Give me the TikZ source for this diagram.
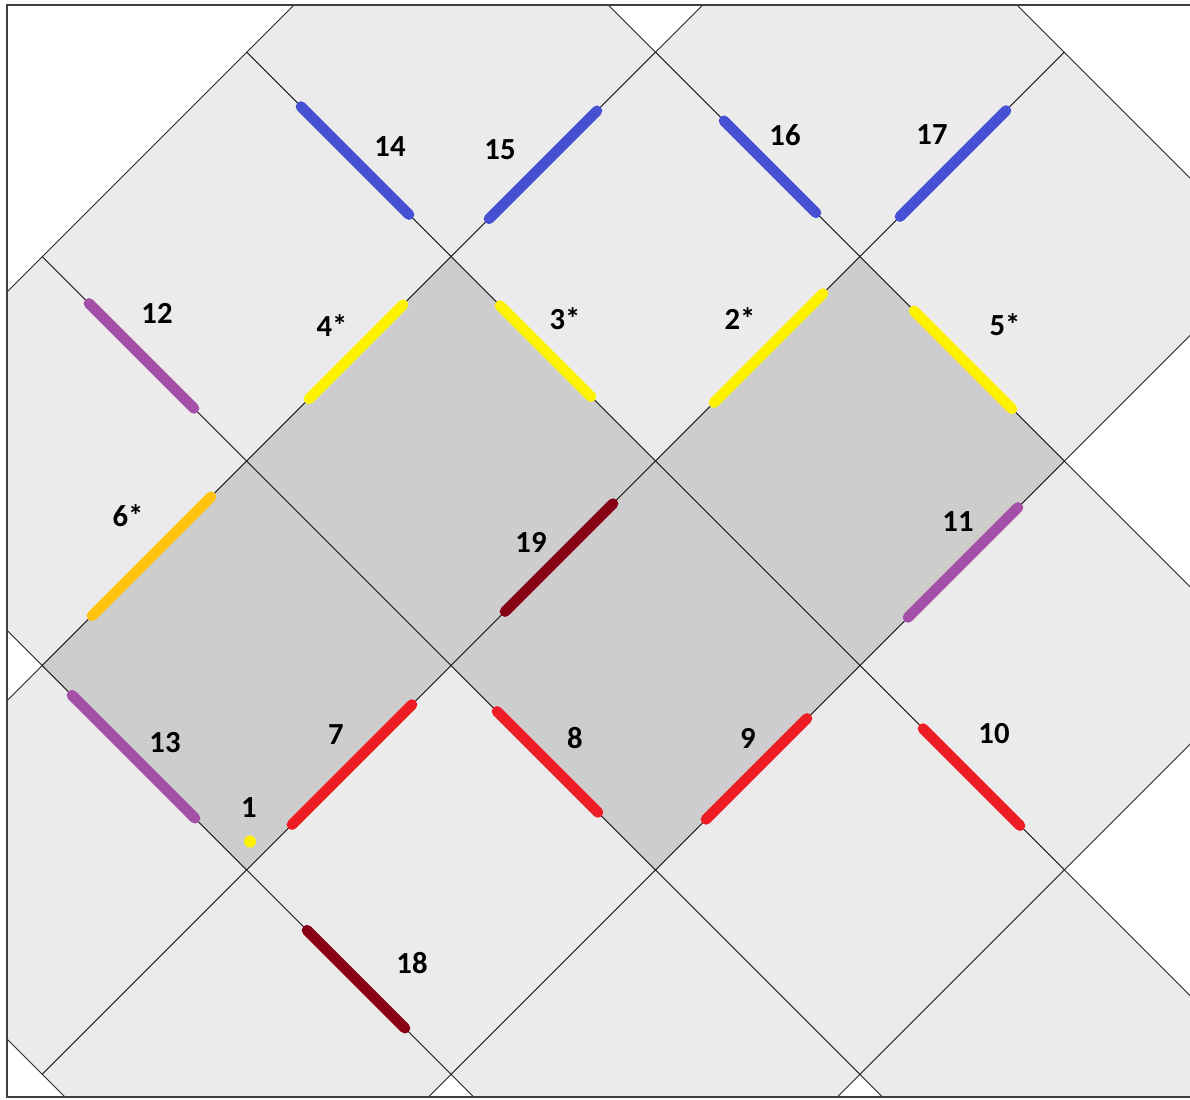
\documentclass[tikz,border=0pt]{standalone}
\usepackage{fontspec}
\setmainfont{Carlito}
\definecolor{tilelight}{HTML}{EBEBEB}
\definecolor{tiledark}{HTML}{CDCDCD}
\definecolor{segblue}{HTML}{4650D2}
\definecolor{segpurple}{HTML}{A550A8}
\definecolor{segyellow}{HTML}{FFF200}
\definecolor{segorange}{HTML}{FFC20E}
\definecolor{segred}{HTML}{EE1C24}
\definecolor{segdark}{HTML}{880015}
\definecolor{framegray}{HTML}{404040}
\begin{document}
\begin{tikzpicture}[x=0.75pt,y=-0.75pt,
  tileedge/.style={draw=black!85,line width=0.65pt},
  seg/.style={line width=8pt,line cap=round},
  lbl/.style={font=\fontsize{23}{27}\selectfont\bfseries,inner sep=0pt,text=black},
  framelinestyle/.style={draw=framegray,line width=1.5pt}]
\useasboundingbox (0,0) rectangle (1190,1100);
\fill[white] (0,0) rectangle (1190,1100);
% tiles
\begin{scope}
\clip (7,5) rectangle (1190,1097);
\foreach \tm/\tn/\tc in {2/0/tilelight,4/0/tilelight,1/1/tilelight,3/1/tilelight,5/1/tilelight,
  0/2/tilelight,5/3/tilelight,0/4/tilelight,2/4/tilelight,4/4/tilelight,1/5/tilelight,3/5/tilelight,5/5/tilelight,
  2/2/tiledark,4/2/tiledark,1/3/tiledark,3/3/tiledark}{
  \filldraw[tileedge,fill=\tc] ({42.3+204.4*\tm-204.4},{52.3+204.4*\tn}) -- ++(204.4,-204.4) -- ++(204.4,204.4) -- ++(-204.4,204.4) -- cycle;
}
\end{scope}
% frame
\draw[framelinestyle] (1190,5) -- (7,5) -- (7,1097) -- (1190,1097);
% segments
\draw[seg,segblue] (301,106.6) -- (409,214.6);
\draw[seg,segblue] (489,218.8) -- (597,110.8);
\draw[seg,segblue] (724,120.8) -- (816,212.8);
\draw[seg,segblue] (900,216.6) -- (1006,110.6);
\draw[seg,segpurple] (89,303.4) -- (194,408.4);
\draw[seg,segyellow] (309,398.8) -- (403,304.8);
\draw[seg,segyellow] (500,305.6) -- (591,396.6);
\draw[seg,segyellow] (714,402.6) -- (823,293.6);
\draw[seg,segyellow] (914,310.8) -- (1012,408.8);
\draw[seg,segorange] (92,615.8) -- (211,496.8);
\draw[seg,segdark] (505,611.6) -- (613,503.6);
\draw[seg,segpurple] (908,617.4) -- (1018,507.4);
\draw[seg,segpurple] (72,695.2) -- (195,818.2);
\draw[seg,segred] (292,824.6) -- (412,704.6);
\draw[seg,segred] (497,711.4) -- (598,812.4);
\draw[seg,segred] (706,819.4) -- (807,718.4);
\draw[seg,segred] (923,728.6) -- (1020,825.6);
\draw[seg,segdark] (307,930.2) -- (405,1028.2);
% dot
\fill[segyellow] (250,841.5) circle (6);
% labels
\node[lbl] (l14) at (390,147) {14};
\node[lbl] (l15) at (500,150) {15};
\node[lbl] (l16) at (785,135) {16};
\node[lbl] (l17) at (932,135) {17};
\node[lbl] (l12) at (157,313) {12};
\node[lbl] (l4) at (332,326) {4*};
\node[lbl] (l3) at (565,319) {3*};
\node[lbl] (l2) at (740,319) {2*};
\node[lbl] (l5) at (1005,325) {5*};
\node[lbl] (l6) at (128,516) {6*};
\node[lbl] (l19) at (531,542) {19};
\node[lbl] (l11) at (958,522) {11};
\node[lbl] (l13) at (165,743) {13};
\node[lbl] (l7) at (336,735) {7};
\node[lbl] (l8) at (575,738) {8};
\node[lbl] (l9) at (748,738) {9};
\node[lbl] (l10) at (994,734) {10};
\node[lbl] (l18) at (412,963) {18};
\node[lbl] (l1) at (249,808) {1};
\end{tikzpicture}
\end{document}
